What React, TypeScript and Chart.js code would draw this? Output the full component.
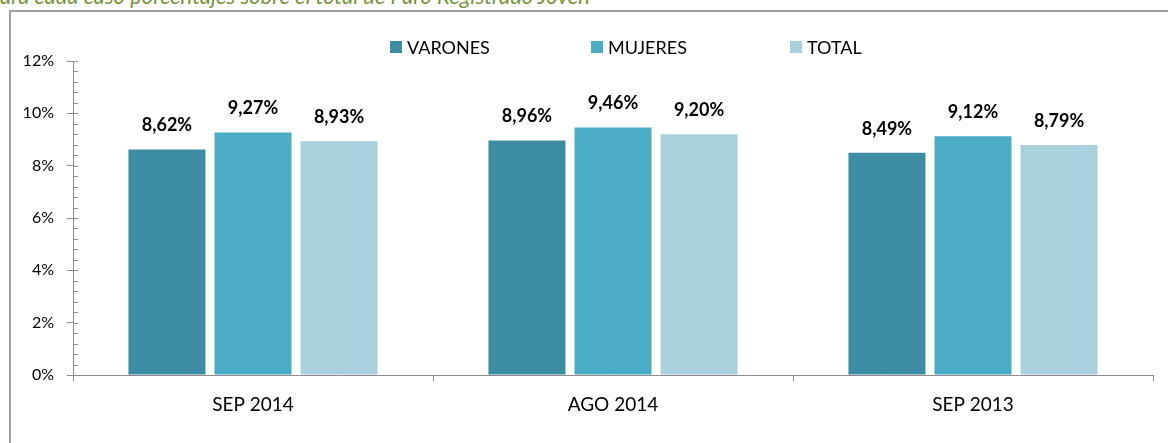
import React, { useEffect, useRef } from "react";
import { Chart, registerables } from "chart.js";

Chart.register(...registerables);

const categories = ["SEP 2014", "AGO 2014", "SEP 2013"];
const seriesNames = ["VARONES", "MUJERES", "TOTAL"];
const varones = [8.62, 8.96, 8.49];
const mujeres = [9.27, 9.46, 9.12];
const total = [8.93, 9.2, 8.79];
const seriesColors = ["#3C8CA3", "#4BACC6", "#AACFDD"];
const yTicks = [0, 2, 4, 6, 8, 10, 12];
const subtitle = "ara cada caso porcentajes sobre el total de Paro Registrado Joven";

const FONT = "Lato, 'Open Sans', sans-serif";

const minorTicksPlugin = {
  id: "minorTicks",
  afterDraw(chart: any) {
    const y = chart.scales.y;
    const ctx = chart.ctx;
    const x0 = chart.chartArea.left;
    ctx.save();
    ctx.strokeStyle = "#8C8C8C";
    ctx.lineWidth = 1;
    for (let i = 0; i <= 30; i++) {
      const v = i * 0.4;
      const py = Math.round(y.getPixelForValue(v)) + 0.5;
      ctx.beginPath();
      ctx.moveTo(x0, py);
      ctx.lineTo(x0 + 5, py);
      ctx.stroke();
    }
    ctx.restore();
  },
};

const valueLabelsPlugin = {
  id: "valueLabels",
  afterDatasetsDraw(chart: any) {
    const ctx = chart.ctx;
    ctx.save();
    ctx.font = `bold 18px ${FONT}`;
    ctx.fillStyle = "#000000";
    ctx.textAlign = "center";
    ctx.textBaseline = "middle";
    chart.data.datasets.forEach((ds: any, di: number) => {
      const meta = chart.getDatasetMeta(di);
      meta.data.forEach((bar: any, i: number) => {
        const v = ds.data[i] as number;
        const txt = v.toFixed(2).replace(".", ",") + "%";
        ctx.fillText(txt, bar.x, bar.y - 24);
      });
    });
    ctx.restore();
  },
};

const legendPlugin = {
  id: "customLegend",
  afterDraw(chart: any) {
    const ctx = chart.ctx;
    const xs = [390, 591, 790];
    const cy = 47;
    ctx.save();
    ctx.font = `18px ${FONT}`;
    ctx.textBaseline = "middle";
    ctx.textAlign = "left";
    chart.data.datasets.forEach((ds: any, i: number) => {
      ctx.fillStyle = ds.backgroundColor;
      ctx.fillRect(xs[i], cy - 6, 12, 12);
      ctx.fillStyle = "#000000";
      ctx.fillText(ds.label, xs[i] + 17, cy + 1);
    });
    ctx.restore();
  },
};

export default function App() {
  const ref = useRef<HTMLCanvasElement | null>(null);

  useEffect(() => {
    if (!ref.current) return;
    const chart = new Chart(ref.current, {
      type: "bar",
      data: {
        labels: categories,
        datasets: [varones, mujeres, total].map((d, i) => ({
          label: seriesNames[i],
          data: d,
          backgroundColor: seriesColors[i],
          borderWidth: 0,
          categoryPercentage: 0.717,
          barPercentage: 0.895,
        })),
      },
      options: {
        animation: false,
        responsive: false,
        maintainAspectRatio: false,
        layout: { padding: { top: 61, right: 15, left: 0, bottom: 0 } },
        plugins: {
          legend: { display: false },
          tooltip: { enabled: false },
        },
        scales: {
          x: {
            grid: {
              display: true,
              drawOnChartArea: false,
              drawTicks: true,
              tickLength: 6,
              color: "#8C8C8C",
              offset: true,
            },
            border: { display: true, color: "#8C8C8C", width: 1 },
            ticks: {
              color: "#000000",
              font: { family: FONT, size: 19 },
              padding: 12,
            },
            afterFit(scale: any) {
              scale.height = 68;
            },
          },
          y: {
            min: 0,
            max: 12,
            afterBuildTicks(scale: any) {
              scale.ticks = yTicks.map((v) => ({ value: v }));
            },
            grid: {
              display: true,
              drawOnChartArea: false,
              drawTicks: true,
              tickLength: 6,
              color: "#8C8C8C",
            },
            border: { display: true, color: "#8C8C8C", width: 1 },
            ticks: {
              color: "#000000",
              font: { family: FONT, size: 16 },
              padding: 13,
              callback: (v: any) => `${v}%`,
            },
            afterFit(scale: any) {
              scale.width = 73;
            },
          },
        },
      },
      plugins: [minorTicksPlugin, valueLabelsPlugin, legendPlugin],
    });
    return () => chart.destroy();
  }, []);

  return (
    <div
      style={{
        position: "fixed",
        left: 0,
        top: 0,
        width: 1168,
        height: 443,
        overflow: "hidden",
        background: "#FFFFFF",
      }}
    >
      <div
        style={{
          position: "absolute",
          left: 0,
          top: -17,
          fontFamily: FONT,
          fontStyle: "italic",
          fontSize: 22,
          lineHeight: "26px",
          color: "#77933C",
          whiteSpace: "nowrap",
        }}
      >
        {subtitle}
      </div>
      <div
        style={{
          position: "absolute",
          left: 9,
          top: 10,
          width: 1300,
          height: 600,
          borderTop: "2px solid #A0A0A0",
          borderLeft: "2px solid #A0A0A0",
          boxSizing: "border-box",
        }}
      />
      <canvas
        ref={ref}
        width={1168}
        height={443}
        style={{ position: "absolute", left: 0, top: 0, width: 1168, height: 443 }}
      />
    </div>
  );
}
